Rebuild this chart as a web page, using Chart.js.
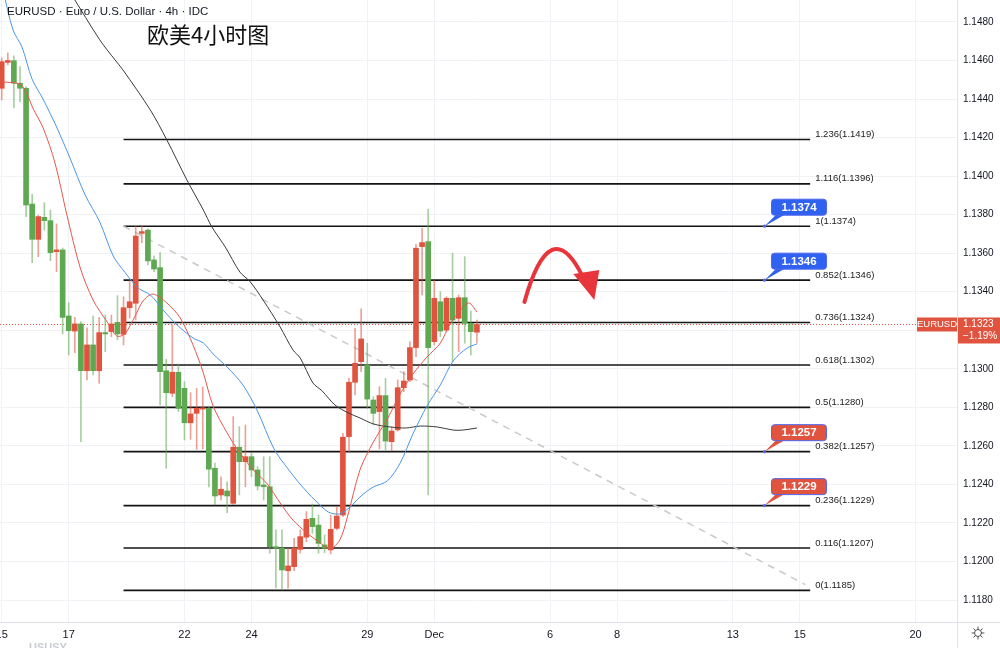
<!DOCTYPE html>
<html>
<head>
<meta charset="utf-8">
<script src="https://cdn.jsdelivr.net/npm/chart.js@4"></script>
<style>
  html, body { margin: 0; padding: 0; background: #fff; }
  #wrap { width: 1000px; height: 648px; }
</style>
</head>
<body>
<div id="wrap"><canvas id="myChart" width="1000" height="648"></canvas></div>
<script>
// 4h candles, index 0 = first bar on screen
var opens = [1.14456, 1.14590, 1.14599, 1.14482, 1.14456, 1.13855, 1.13672, 1.13786, 1.13769, 1.13608,
  1.13617, 1.13274, 1.13196, 1.13233, 1.12990, 1.13124, 1.12990, 1.13188, 1.13193, 1.13241,
  1.13179, 1.13317, 1.13340, 1.13703, 1.13720, 1.13565, 1.13525, 1.12990, 1.12873, 1.12982,
  1.12899, 1.12720, 1.12769, 1.12791, 1.12795, 1.12484, 1.12345, 1.12366, 1.12302, 1.12593,
  1.12518, 1.12544, 1.12475, 1.12397, 1.12388, 1.12077, 1.12069, 1.11952, 1.11973, 1.12063,
  1.12126, 1.12224, 1.12189, 1.12086, 1.12060, 1.12172, 1.12241, 1.12648, 1.12930, 1.13037,
  1.13020, 1.12838, 1.12778, 1.12861, 1.12622, 1.12683, 1.12902, 1.12942, 1.13110, 1.13634,
  1.13660, 1.13141, 1.13348, 1.13201, 1.13366, 1.13262, 1.13369, 1.13236, 1.13190];
var highs = [1.14613, 1.14639, 1.14624, 1.14568, 1.14463, 1.13906, 1.13798, 1.13862, 1.13824, 1.13752,
  1.13627, 1.13343, 1.13267, 1.13245, 1.13213, 1.13274, 1.13267, 1.13279, 1.13279, 1.13380,
  1.13374, 1.13461, 1.13741, 1.13741, 1.13726, 1.13586, 1.13603, 1.13049, 1.13227, 1.13025,
  1.12933, 1.12876, 1.12899, 1.12906, 1.12802, 1.12511, 1.12440, 1.12414, 1.12752, 1.12700,
  1.12708, 1.12565, 1.12492, 1.12544, 1.12544, 1.12164, 1.12164, 1.12069, 1.12120, 1.12164,
  1.12259, 1.12298, 1.12241, 1.12138, 1.12241, 1.12284, 1.12665, 1.12952, 1.13210, 1.13311,
  1.13133, 1.12855, 1.12907, 1.12951, 1.12700, 1.12942, 1.12985, 1.13141, 1.13646, 1.13729,
  1.13829, 1.13461, 1.13400, 1.13374, 1.13600, 1.13383, 1.13582, 1.13300, 1.13253];
var lows = [1.14395, 1.14577, 1.14354, 1.14386, 1.13790, 1.13551, 1.13582, 1.13720, 1.13561, 1.13504,
  1.13181, 1.13072, 1.13084, 1.12622, 1.12942, 1.12968, 1.12925, 1.13089, 1.13167, 1.13150,
  1.13124, 1.13264, 1.13253, 1.13655, 1.13539, 1.13504, 1.12812, 1.12484, 1.12855, 1.12778,
  1.12631, 1.12634, 1.12582, 1.12584, 1.12387, 1.12293, 1.12319, 1.12253, 1.12296, 1.12345,
  1.12388, 1.12440, 1.12371, 1.12319, 1.12043, 1.11863, 1.11852, 1.11861, 1.11952, 1.12043,
  1.12103, 1.12146, 1.12043, 1.12046, 1.12039, 1.12164, 1.12233, 1.12570, 1.12864, 1.12985,
  1.12795, 1.12708, 1.12584, 1.12579, 1.12574, 1.12677, 1.12881, 1.12933, 1.13063, 1.13383,
  1.12345, 1.13124, 1.13167, 1.13193, 1.13037, 1.13089, 1.13133, 1.13072, 1.13133];
var closes = [1.14594, 1.14600, 1.14482, 1.14456, 1.13850, 1.13672, 1.13790, 1.13769, 1.13603, 1.13617,
  1.13267, 1.13198, 1.13233, 1.12990, 1.13124, 1.12990, 1.13188, 1.13181, 1.13233, 1.13181,
  1.13317, 1.13348, 1.13689, 1.13712, 1.13560, 1.13518, 1.12985, 1.12876, 1.12982, 1.12795,
  1.12720, 1.12766, 1.12795, 1.12797, 1.12479, 1.12340, 1.12375, 1.12340, 1.12593, 1.12518,
  1.12544, 1.12475, 1.12392, 1.12388, 1.12077, 1.12069, 1.11956, 1.11977, 1.12069, 1.12129,
  1.12219, 1.12181, 1.12094, 1.12069, 1.12167, 1.12236, 1.12645, 1.12930, 1.13029, 1.13155,
  1.12843, 1.12769, 1.12861, 1.12625, 1.12677, 1.12902, 1.12937, 1.13110, 1.13626, 1.13655,
  1.13110, 1.13366, 1.13196, 1.13366, 1.13253, 1.13369, 1.13236, 1.13193, 1.13230];

// moving averages (bar index, price)
var fastMaIdx = [0, 3, 4, 5.1, 6.8, 8.75, 10.7, 12.9, 15, 17.3, 18.9, 20.2, 21.9, 23.2, 24.8, 27.1, 29.3, 31.4, 33.1, 34.7, 37,
  39.1, 41.3, 43.6, 45.7, 47.8, 50.1, 52.3, 53.9, 55.5, 56.7, 58.8, 61, 63.3, 65.4, 67.5, 69.8, 72, 73.6, 75.3, 76.7, 78];
var fastMa = [1.14489, 1.14478, 1.14437, 1.14354, 1.14250, 1.14068, 1.13798, 1.13523, 1.13357, 1.13243, 1.13170,
  1.13181, 1.13274, 1.13352, 1.13388, 1.13342, 1.13264, 1.13124, 1.12978, 1.12807, 1.12667, 1.12563, 1.12475,
  1.12402, 1.12304, 1.12215, 1.12148, 1.12096, 1.12065, 1.12112, 1.12226, 1.12475, 1.12620, 1.12740, 1.12869,
  1.12973, 1.13061, 1.13134, 1.13233, 1.13305, 1.13342, 1.13295];
var midMaIdx = [0.2, 1.86, 3.33, 4.98, 6.78, 9.08, 11.2, 13.7, 16.1, 18.3, 20.2, 22.4, 24.4, 26.5, 28.8, 31.4, 33.1, 34.7,
  37, 39.6, 41.9, 44.7, 47, 49.1, 51.4, 53.6, 55.5, 57.2, 58.8, 61, 63.3, 65.4, 67.5, 69.8, 72, 74.1, 76.4, 78];
var midMa = [1.14966, 1.14758, 1.14670, 1.14504, 1.14400, 1.14250, 1.14094, 1.13902, 1.13762, 1.13586, 1.13502,
  1.13419, 1.13383, 1.13305, 1.13227, 1.13160, 1.13134, 1.13077, 1.13009, 1.12916, 1.12786, 1.12584, 1.12480,
  1.12397, 1.12319, 1.12257, 1.12247, 1.12283, 1.12335, 1.12387, 1.12418, 1.12511, 1.12662, 1.12807, 1.12916,
  1.13041, 1.13108, 1.13129];
var slowMaIdx = [11.5, 16.1, 18.6, 19.9, 24.4, 27.1, 30.4, 33.1, 34.5, 36.7, 39.1, 40.8, 42.9, 45.7, 47.8, 49, 51.1,
  52.6, 54.7, 56.9, 58.8, 61, 63.8, 66.4, 68.7, 71.5, 74.1, 75.7, 78];
var slowMa = [1.14940, 1.14707, 1.14603, 1.14551, 1.14343, 1.14188, 1.13980, 1.13824, 1.13736, 1.13632, 1.13502,
  1.13451, 1.13357, 1.13217, 1.13098, 1.13056, 1.12926, 1.12885, 1.12812, 1.12771, 1.12745, 1.12714, 1.12698,
  1.12693, 1.12703, 1.12698, 1.12682, 1.12682, 1.12693];

// fibonacci retracement
var fibRatios = ['1.236', '1.116', '1', '0.852', '0.736', '0.618', '0.5', '0.382', '0.236', '0.116', '0'];
var fibLevels = [1.1419, 1.1396, 1.1374, 1.1346, 1.1324, 1.1302, 1.1280, 1.1257, 1.1229, 1.1207, 1.1185];
var fibStart = 20;
var fibEnd = 132.7;

var calloutLevels = [1.1374, 1.1346, 1.1257, 1.1229];
var calloutKinds = ['blue', 'blue', 'red', 'red'];
var calloutIdx = 125.2;

var trendIdx = [20, 131.9];
var trendPrice = [1.1374, 1.1188];

var arrowIdx = [85.8, 90.0, 95.3];
var arrowPrice = [1.13347, 1.13817, 1.13482];

var xTickPos = [0, 11, 30, 41, 60, 71, 90, 101, 120, 131, 150];
var xTickLabels = ['15', '17', '22', '24', '29', 'Dec', '6', '8', '13', '15', '20'];
var yTicks = [1.1180, 1.1200, 1.1220, 1.1240, 1.1260, 1.1280, 1.1300, 1.1320, 1.1340, 1.1360,
  1.1380, 1.1400, 1.1420, 1.1440, 1.1460, 1.1480];

var lastPrice = 1.1323;
var lastChange = '\u22121.19%';

var RED = '#e0533f';
var GREEN = '#5ea852';
var FONT = '"Liberation Sans", Arial, sans-serif';

function pts(xs, ys) {
  return xs.map(function(v, i) { return {x: v, y: ys[i]}; });
}

var wickData = closes.map(function(c, i) { return {x: i, y: [lows[i], highs[i]]}; });
var bodyData = closes.map(function(c, i) { return {x: i, y: [opens[i], c]}; });
var bodyColors = closes.map(function(c, i) { return c >= opens[i] ? RED : GREEN; });
var wickColors = closes.map(function(c, i) {
  return c >= opens[i] ? 'rgba(224, 83, 63, 0.55)' : 'rgba(94, 168, 82, 0.55)';
});

var datasets = [
  {type: 'line', data: pts(midMaIdx, midMa), borderColor: '#4a95e6', borderWidth: 1, pointRadius: 0, tension: 0.3, order: 1},
  {type: 'line', data: pts(fastMaIdx, fastMa), borderColor: '#e5574c', borderWidth: 1, pointRadius: 0, tension: 0.3, order: 1},
  {type: 'line', data: pts(slowMaIdx, slowMa), borderColor: '#3a3a3a', borderWidth: 1, pointRadius: 0, tension: 0.3, order: 1},
  {type: 'bar', data: bodyData, backgroundColor: bodyColors, barThickness: 5, grouped: false, minBarLength: 1, order: 2},
  {type: 'bar', data: wickData, backgroundColor: wickColors, barThickness: 1, grouped: false, order: 3},
  {type: 'line', data: pts(trendIdx, trendPrice), borderColor: '#c9c9c9', borderWidth: 1.5, borderDash: [7, 6], pointRadius: 0, order: 4}
];
fibLevels.forEach(function(lv) {
  datasets.push({type: 'line', data: [{x: fibStart, y: lv}, {x: fibEnd, y: lv}],
    borderColor: '#141414', borderWidth: 1.6, pointRadius: 0, order: 5});
});

var overlay = {
  id: 'overlay',
  beforeDatasetsDraw: function(chart) {
    var ctx = chart.ctx, area = chart.chartArea, y = chart.scales.y;
    var py = Math.round(y.getPixelForValue(lastPrice)) + 0.5;
    ctx.save();
    ctx.strokeStyle = RED;
    ctx.lineWidth = 1;
    ctx.setLineDash([1, 2]);
    ctx.beginPath();
    ctx.moveTo(area.left, py);
    ctx.lineTo(area.right, py);
    ctx.stroke();
    ctx.restore();
  },
  afterDatasetsDraw: function(chart) {
    var ctx = chart.ctx, area = chart.chartArea, x = chart.scales.x, y = chart.scales.y;
    ctx.save();

    // fib labels
    ctx.font = '9.5px ' + FONT;
    ctx.fillStyle = '#222';
    ctx.textAlign = 'left';
    ctx.textBaseline = 'middle';
    var lx = x.getPixelForValue(fibEnd) + 5;
    fibLevels.forEach(function(lv, i) {
      ctx.fillText(fibRatios[i] + '(' + lv.toFixed(4) + ')', lx, y.getPixelForValue(lv) - 5);
    });

    // price callouts
    calloutLevels.forEach(function(lv, k) {
      var px = x.getPixelForValue(calloutIdx), py = y.getPixelForValue(lv);
      var bw = 55, bh = 16, bx = px + 7, by = py - 11 - bh;
      var fill = calloutKinds[k] == 'blue' ? '#2f62f0' : RED;
      ctx.fillStyle = fill;
      ctx.beginPath();
      ctx.moveTo(bx + 5, by + bh - 1);
      ctx.lineTo(bx + 14, by + bh - 1);
      ctx.lineTo(px, py);
      ctx.closePath();
      ctx.fill();
      ctx.beginPath();
      ctx.roundRect(bx, by, bw, bh, 3);
      ctx.fill();
      ctx.strokeStyle = '#4f66ee';
      ctx.lineWidth = 1;
      ctx.stroke();
      ctx.fillStyle = '#4f66ee';
      ctx.beginPath();
      ctx.arc(px, py, 1.6, 0, Math.PI * 2);
      ctx.fill();
      ctx.fillStyle = '#fff';
      ctx.font = 'bold 11.5px ' + FONT;
      ctx.textAlign = 'center';
      ctx.fillText(lv.toFixed(4), bx + bw / 2, by + bh / 2 + 0.5);
    });

    // red curved arrow
    var a0x = x.getPixelForValue(arrowIdx[0]), a0y = y.getPixelForValue(arrowPrice[0]);
    var a1x = x.getPixelForValue(arrowIdx[1]), a1y = y.getPixelForValue(arrowPrice[1]);
    var a2x = x.getPixelForValue(arrowIdx[2]), a2y = y.getPixelForValue(arrowPrice[2]);
    ctx.strokeStyle = '#e8353c';
    ctx.lineWidth = 4;
    ctx.lineCap = 'round';
    ctx.beginPath();
    ctx.moveTo(a0x, a0y);
    ctx.quadraticCurveTo(a1x, a1y, a2x, a2y);
    ctx.stroke();
    ctx.fillStyle = '#e8353c';
    ctx.beginPath();
    ctx.moveTo(a2x - 9, a2y - 2);
    ctx.lineTo(a2x + 17, a2y - 6);
    ctx.lineTo(a2x + 12, a2y + 24);
    ctx.closePath();
    ctx.fill();

    // titles
    ctx.textAlign = 'left';
    ctx.textBaseline = 'middle';
    ctx.font = '11.5px ' + FONT;
    ctx.fillStyle = '#131722';
    ctx.fillText('EURUSD \u00b7 Euro / U.S. Dollar \u00b7 4h \u00b7 IDC', 7, 12);
    ctx.font = '22px "Noto Sans CJK SC", sans-serif';
    ctx.fillStyle = '#111';
    ctx.fillText('欧美4小时图', 147, 35);

    // last price tags
    var ty = y.getPixelForValue(lastPrice);
    ctx.fillStyle = RED;
    ctx.fillRect(917, ty - 7, 40, 14);
    ctx.fillRect(area.right + 1, ty - 7, 43, 26);
    ctx.fillStyle = '#fff';
    ctx.font = '9.5px ' + FONT;
    ctx.textAlign = 'center';
    ctx.fillText('EURUSD', 937, ty);
    ctx.textAlign = 'left';
    ctx.font = '10px ' + FONT;
    ctx.fillText(lastPrice.toFixed(4), area.right + 6, ty);
    ctx.fillText(lastChange, area.right + 6, ty + 12);

    // axis frame bits outside the plot
    ctx.strokeStyle = '#e0e3eb';
    ctx.lineWidth = 1;
    ctx.beginPath();
    ctx.moveTo(area.right, area.bottom + 0.5);
    ctx.lineTo(1000, area.bottom + 0.5);
    ctx.moveTo(area.right + 0.5, area.bottom);
    ctx.lineTo(area.right + 0.5, 648);
    ctx.stroke();

    // settings gear
    var gx = 978, gy = 633;
    ctx.strokeStyle = '#555';
    ctx.lineWidth = 1;
    ctx.beginPath();
    ctx.arc(gx, gy, 3.5, 0, Math.PI * 2);
    ctx.stroke();
    for (var t = 0; t < 8; t++) {
      var ang = t * Math.PI / 4;
      ctx.beginPath();
      ctx.moveTo(gx + Math.cos(ang) * 3.5, gy + Math.sin(ang) * 3.5);
      ctx.lineTo(gx + Math.cos(ang) * 6, gy + Math.sin(ang) * 6);
      ctx.stroke();
    }

    ctx.fillStyle = '#c9ccd3';
    ctx.font = 'bold 11px ' + FONT;
    ctx.fillText('USUSY', 29, 648);
    ctx.restore();
  }
};

var ctx = document.getElementById('myChart');

var eurChart = new Chart(ctx, {
  type: 'bar',
  data: {datasets: datasets},
  options: {
    responsive: false,
    devicePixelRatio: 1,
    animation: false,
    layout: {padding: 0},
    plugins: {legend: {display: false}, tooltip: {enabled: false}},
    scales: {
      x: {
        type: 'linear',
        min: -0.28,
        max: 156.8,
        offset: false,
        grid: {color: '#f0f2f6', drawTicks: false, offset: false},
        border: {color: '#e0e3eb'},
        ticks: {
          autoSkip: false,
          maxRotation: 0,
          padding: 6,
          color: '#131722',
          font: {size: 11, family: FONT},
          callback: function(v, i) { return xTickLabels[i]; }
        },
        afterBuildTicks: function(scale) {
          scale.ticks = xTickPos.map(function(v) { return {value: v}; });
        },
        afterFit: function(scale) {
          scale.height = 26;
          scale.paddingLeft = 0;
          scale.paddingRight = 0;
        }
      },
      y: {
        type: 'linear',
        position: 'right',
        min: 1.11686,
        max: 1.14914,
        grid: {color: '#f0f2f6', drawTicks: false},
        border: {color: '#e0e3eb'},
        ticks: {
          padding: 6,
          color: '#131722',
          font: {size: 10, family: FONT},
          callback: function(v) { return v.toFixed(4); }
        },
        afterBuildTicks: function(scale) {
          scale.ticks = yTicks.map(function(v) { return {value: v}; });
        },
        afterFit: function(scale) {
          scale.width = 43;
          scale.paddingTop = 0;
          scale.paddingBottom = 0;
        }
      }
    }
  },
  plugins: [overlay]
});
</script>
</body>
</html>
